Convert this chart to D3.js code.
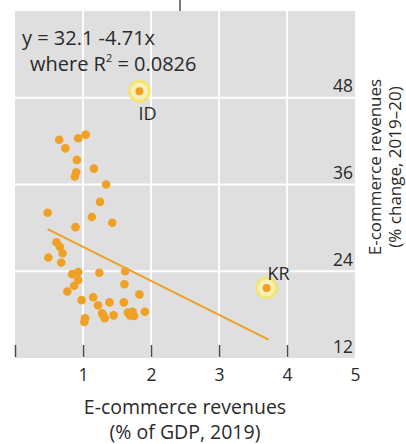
<!DOCTYPE html>
<html>
<head>
<meta charset="utf-8">
<script src="https://cdn.jsdelivr.net/npm/d3@7"></script>
<style>
  html, body { margin: 0; padding: 0; background: #ffffff; }
  svg { display: block; }
  text { font-family: "Open Sans", "Noto Sans", sans-serif; fill: #2a2a2a; }
</style>
</head>
<body>
<svg id="chart" width="406" height="444"></svg>
<script>
// E-commerce revenues, % of GDP in 2019 (x) vs % change 2019–20 (y)
const gdpShare = [
  0.65, 0.74, 0.93, 1.04, 0.91, 0.90, 0.88, 1.16, 1.34, 1.25,
  0.48, 1.13, 1.43, 0.89, 0.61, 0.66, 0.49, 0.70, 0.68, 0.84,
  0.93, 0.93, 0.87, 0.77, 1.24, 1.62, 1.61, 1.83, 0.98, 1.15,
  1.22, 1.39, 1.60, 1.28, 1.32, 1.45, 1.03, 1.02, 1.66, 1.73,
  1.75, 1.91, 1.69, 1.30
];
const revenueGrowth = [
  42.2, 41.0, 42.4, 42.9, 39.4, 37.7, 37.1, 38.2, 36.0, 33.6,
  32.1, 31.5, 30.7, 30.1, 28.0, 27.4, 25.9, 26.5, 25.2, 23.6,
  23.9, 22.8, 22.0, 21.2, 23.8, 24.0, 22.2, 20.8, 20.0, 20.4,
  19.3, 19.7, 19.7, 18.2, 17.5, 17.9, 17.5, 17.0, 18.3, 18.4,
  17.8, 18.4, 17.9, 17.9
];
// Highlighted economies
const highlightCodes = ["ID", "KR"];
const highlightX = [1.83, 3.70];
const highlightY = [48.9, 21.7];

// Fitted line y = a + b·x
const fitIntercept = 32.1;
const fitSlope = -4.71;
const fitR2 = 0.0826;

const xTickMarks = [0, 1, 2, 3, 4];
const xTickLabels = [1, 2, 3, 4, 5];
const yTicks = [12, 24, 36, 48];
const xGrid = [1, 2, 3, 4];
const yGrid = [24, 36, 48];

const panel = { left: 15, right: 355, top: 11, bottom: 358 };
const svg = d3.select("#chart");

const x = d3.scaleLinear().domain([0, 5]).range([panel.left, panel.right]);
const y = d3.scaleLinear().domain([12, 60]).range([panel.bottom, panel.top]);

const orange = "#f0a024";

// stray mark at the top edge
svg.append("line")
  .attr("x1", 180).attr("x2", 180).attr("y1", 0).attr("y2", 12)
  .attr("stroke", "#333").attr("stroke-width", 1.3);

// panel background
svg.append("rect")
  .attr("x", panel.left).attr("y", panel.top)
  .attr("width", panel.right - panel.left)
  .attr("height", panel.bottom - panel.top)
  .attr("fill", "#dfdfdf");

// grid
svg.append("g").selectAll("line").data(xGrid).join("line")
  .attr("x1", d => x(d)).attr("x2", d => x(d))
  .attr("y1", panel.top).attr("y2", panel.bottom)
  .attr("stroke", "#ffffff").attr("stroke-width", 1.8);
svg.append("g").selectAll("line").data(yGrid).join("line")
  .attr("x1", panel.left).attr("x2", panel.right)
  .attr("y1", d => y(d)).attr("y2", d => y(d))
  .attr("stroke", "#ffffff").attr("stroke-width", 1.8);

// x tick marks inside the panel bottom
const xMarks = svg.append("g")
  .attr("transform", `translate(0,${panel.bottom - 1})`)
  .call(d3.axisBottom(x).tickValues(xTickMarks).tickSize(-12).tickFormat(""));
xMarks.select(".domain").remove();
xMarks.selectAll(".tick line").attr("stroke", "#4a4a4a").attr("stroke-width", 1.5);

// x tick labels
const xLabels = svg.append("g")
  .attr("transform", `translate(0,${panel.bottom})`)
  .call(d3.axisBottom(x).tickValues(xTickLabels).tickSize(0).tickPadding(11).tickFormat(d3.format("d")));
xLabels.select(".domain").remove();
xLabels.selectAll("text").style("font-size", "17.5px").attr("fill", "#2a2a2a");

// y tick labels, right aligned inside the panel, above each grid line
const yLabels = svg.append("g")
  .attr("transform", `translate(${panel.right - 2},0)`)
  .call(d3.axisLeft(y).tickValues(yTicks).tickSize(0).tickPadding(0));
yLabels.select(".domain").remove();
yLabels.selectAll("text")
  .attr("dy", "-6")
  .style("font-size", "17.5px").attr("fill", "#2a2a2a");

// regression line over the observed x range
const allX = gdpShare.concat(highlightX);
const [xMin, xMax] = d3.extent(allX);
const fitLine = d3.line().x(d => x(d)).y(d => y(fitIntercept + fitSlope * d));
svg.append("path")
  .attr("d", fitLine([xMin, xMax + 0.03]))
  .attr("fill", "none").attr("stroke", orange).attr("stroke-width", 2);

// scatter points
svg.append("g").selectAll("circle").data(gdpShare).join("circle")
  .attr("cx", d => x(d))
  .attr("cy", (d, i) => y(revenueGrowth[i]))
  .attr("r", 4.3)
  .attr("fill", orange);

// highlighted points with halo
const hl = svg.append("g").selectAll("g").data(highlightCodes).join("g")
  .attr("transform", (d, i) => `translate(${x(highlightX[i])},${y(highlightY[i])})`);
hl.append("circle").attr("r", 10)
  .attr("fill", "#f6efb8").attr("stroke", "#f4e46a").attr("stroke-width", 2.5);
hl.append("circle").attr("r", 4).attr("fill", orange);
hl.append("text")
  .attr("x", (d, i) => i === 0 ? -1 : 1)
  .attr("y", (d, i) => i === 0 ? 29 : -8)
  .style("font-size", "18px")
  .text(d => d);

// equation annotation
svg.append("text").attr("x", 22).attr("y", 45).style("font-size", "20px")
  .text(`y = ${fitIntercept} ${fitSlope}x`);
const l2 = svg.append("text").attr("x", 30).attr("y", 71).style("font-size", "20px");
l2.append("tspan").text("where R");
l2.append("tspan").attr("dy", -9).style("font-size", "11px").text("2");
l2.append("tspan").attr("dy", 9).text(` = ${fitR2}`);

// axis titles
svg.append("text")
  .attr("x", 185).attr("y", 414)
  .attr("text-anchor", "middle").style("font-size", "19.5px")
  .text("E-commerce revenues");
svg.append("text")
  .attr("x", 185).attr("y", 439)
  .attr("text-anchor", "middle").style("font-size", "19.5px")
  .text("(% of GDP, 2019)");

const yTitle = svg.append("text")
  .attr("transform", "translate(381,167) rotate(-90)")
  .attr("text-anchor", "middle").style("font-size", "17px");
yTitle.append("tspan").attr("x", 0).attr("y", 0).text("E-commerce revenues");
yTitle.append("tspan").attr("x", 0).attr("y", 20).text("(% change, 2019\u201320)");
</script>
</body>
</html>
